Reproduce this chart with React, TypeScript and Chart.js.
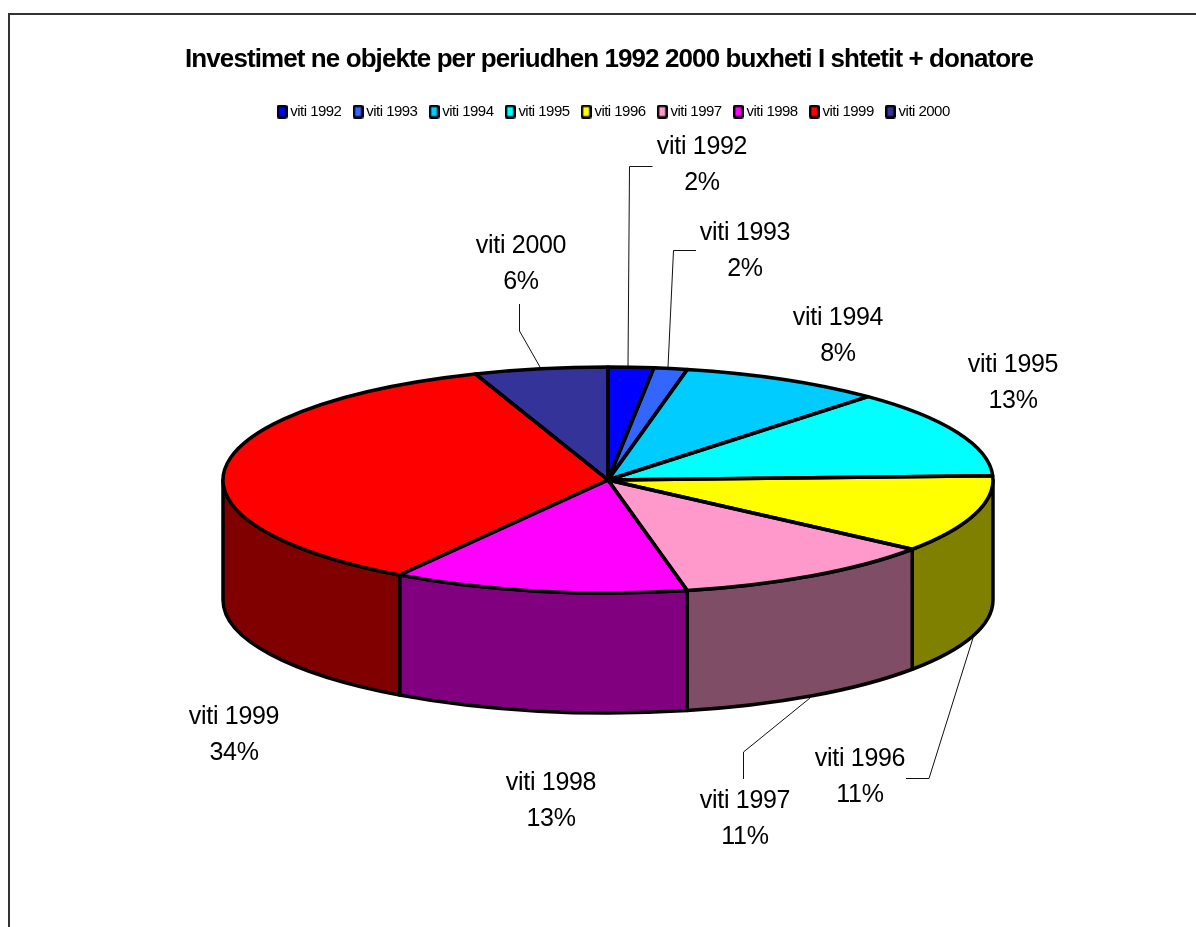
import React, { useEffect, useRef } from "react";
import { Chart, registerables } from "chart.js";

Chart.register(...registerables);

const titleText = "Investimet ne objekte per periudhen 1992 2000 buxheti I shtetit + donatore";
const categories = ["viti 1992", "viti 1993", "viti 1994", "viti 1995", "viti 1996", "viti 1997", "viti 1998", "viti 1999", "viti 2000"];
const sliceValues = [1.9, 1.4, 8.5, 12.6, 11.1, 11.2, 12.4, 35.3, 5.6];
const percentLabels = [2, 2, 8, 13, 11, 11, 13, 34, 6];
const topColors = ["#0000FF", "#3366FF", "#00CCFF", "#00FFFF", "#FFFF00", "#FF99CC", "#FF00FF", "#FF0000", "#333399"];
const sideColors = ["#000080", "#1A3380", "#006680", "#008080", "#808000", "#804D66", "#800080", "#800000", "#1A1A4D"];

// layout of the flattened 3D pie
const CX = 608, CY = 480, RX = 385, RY = 113, DEPTH = 120;
const labelCentres = [[702, 147], [745, 233.5], [838, 318], [1013, 365], [860, 759.5], [745, 801.5], [551, 783.5], [234, 717.5], [521, 246.5]];
const leaders: number[][][] = [
  [[652.5, 166.5], [629.5, 166.5], [628, 366]],
  [[696, 250.5], [673.5, 250.5], [668, 367]],
  [],
  [],
  [[906, 778.5], [929, 778.5], [973, 638]],
  [[743.5, 779], [743.5, 752], [810, 698]],
  [],
  [],
  [[519.5, 304], [519.5, 331], [540, 367]],
];

const spacing = (ctx: any, v: string) => { ctx.letterSpacing = v; };

// legend swatch: a rounded black box around the colour
function swatch(color: string) {
  const c = document.createElement("canvas");
  c.width = 11;
  c.height = 14;
  const g = c.getContext("2d")!;
  g.fillStyle = "#000";
  g.beginPath();
  g.roundRect(0, 0, 11, 14, 2.5);
  g.fill();
  g.fillStyle = color;
  g.fillRect(2.5, 2.5, 6, 9);
  return c;
}

const pie3d = {
  id: "pie3d",
  beforeUpdate(chart: any) { spacing(chart.ctx, "-0.035em"); },
  afterLayout(chart: any) {
    // the legend row sits a little right of the title's centre
    chart.legend.left += 6.5;
    chart.legend.right += 6.5;
  },
  beforeDraw(chart: any) {
    const ctx = chart.ctx;
    ctx.save();
    ctx.fillStyle = "#fff";
    ctx.fillRect(0, 0, chart.width, chart.height);
    ctx.strokeStyle = "#333";
    ctx.lineWidth = 2;
    ctx.beginPath();
    ctx.moveTo(9, chart.height);
    ctx.lineTo(9, 14);
    ctx.lineTo(chart.width, 14);
    ctx.stroke();
    ctx.restore();
    spacing(ctx, "-0.035em");
  },
  beforeDatasetsDraw(chart: any) {
    const ctx = chart.ctx;
    const arcs = chart.getDatasetMeta(0).data;
    // walls: the front half of the rim, extruded downward
    ctx.save();
    ctx.lineWidth = 3.5;
    ctx.strokeStyle = "#000";
    ctx.lineJoin = "round";
    arcs.forEach((a: any, i: number) => {
      const s = Math.max(a.startAngle, 0), e = Math.min(a.endAngle, Math.PI);
      if (e <= s) return;
      ctx.beginPath();
      ctx.ellipse(CX, CY, RX, RY, 0, s, e);
      ctx.ellipse(CX, CY + DEPTH, RX, RY, 0, e, s, true);
      ctx.closePath();
      ctx.fillStyle = sideColors[i];
      ctx.fill();
      ctx.stroke();
    });
    ctx.restore();
    // squash the library's circular pie into the ellipse
    const a0 = arcs[0];
    ctx.save();
    ctx.translate(CX, CY);
    ctx.scale(RX / a0.outerRadius, RY / a0.outerRadius);
    ctx.translate(-a0.x, -a0.y);
  },
  afterDatasetsDraw(chart: any) {
    const ctx = chart.ctx;
    ctx.restore();
    const arcs = chart.getDatasetMeta(0).data;
    ctx.save();
    ctx.lineWidth = 3.5;
    ctx.strokeStyle = "#000";
    ctx.lineJoin = "round";
    arcs.forEach((a: any) => {
      ctx.beginPath();
      ctx.moveTo(CX, CY);
      ctx.ellipse(CX, CY, RX, RY, 0, a.startAngle, a.endAngle);
      ctx.closePath();
      ctx.stroke();
    });
    // leader lines
    ctx.lineWidth = 1;
    ctx.strokeStyle = "#111";
    leaders.forEach((pts) => {
      if (!pts.length) return;
      ctx.beginPath();
      pts.forEach(([x, y], k) => (k ? ctx.lineTo(x, y) : ctx.moveTo(x, y)));
      ctx.stroke();
    });
    // data labels
    ctx.fillStyle = "#000";
    ctx.font = '25px "Liberation Sans"';
    ctx.textAlign = "center";
    ctx.textBaseline = "middle";
    spacing(ctx, "-0.012em");
    categories.forEach((c, i) => {
      const [x, y] = labelCentres[i];
      ctx.fillText(c, x, y);
      ctx.fillText(percentLabels[i] + "%", x, y + 36);
    });
    ctx.restore();
    spacing(ctx, "-0.035em");
  },
};

export default function App() {
  const ref = useRef<HTMLCanvasElement>(null);
  useEffect(() => {
    document.body.style.margin = "0";
    const swatches = topColors.map(swatch);
    const chart = new Chart(ref.current!, {
      type: "pie",
      data: {
        labels: categories,
        datasets: [{ data: sliceValues, backgroundColor: topColors, borderWidth: 0, clip: false } as any],
      },
      options: {
        animation: false,
        responsive: false,
        devicePixelRatio: 1,
        layout: { padding: { left: 22, top: 44, right: 0, bottom: 100 } },
        plugins: {
          tooltip: { enabled: false },
          title: {
            display: true,
            text: titleText,
            color: "#000",
            font: { family: '"Liberation Sans"', size: 26, weight: "bold" },
            padding: { top: 0, bottom: 13 },
          },
          legend: {
            position: "top",
            labels: {
              color: "#000",
              font: { family: '"Liberation Sans"', size: 15 },
              usePointStyle: true,
              pointStyleWidth: 1.5,
              boxHeight: 14,
              padding: 15.9,
              generateLabels: () =>
                categories.map((t, i) => ({
                  text: t,
                  fillStyle: topColors[i],
                  strokeStyle: "#000",
                  lineWidth: 0,
                  pointStyle: swatches[i],
                  index: i,
                  hidden: false,
                })),
            },
          },
        },
      } as any,
      plugins: [pie3d],
    });
    return () => chart.destroy();
  }, []);
  return (
    <div style={{ width: 1196, height: 927, overflow: "hidden" }}>
      <canvas ref={ref} width={1196} height={927} style={{ display: "block" }} />
    </div>
  );
}
